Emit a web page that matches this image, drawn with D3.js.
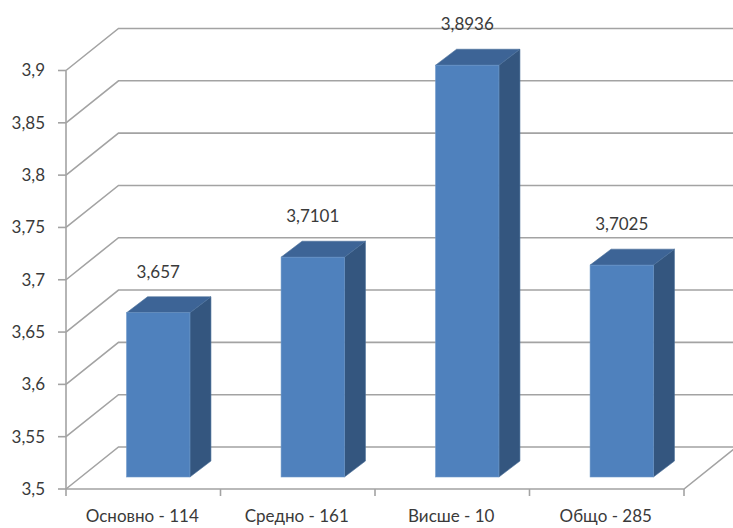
<!DOCTYPE html>
<html>
<head>
<meta charset="utf-8">
<script src="https://cdn.jsdelivr.net/npm/d3@7"></script>
<style>
  html, body { margin: 0; padding: 0; background: #fff; }
  svg { display: block; }
  text { font-family: Lato, "Open Sans", sans-serif; fill: #3A3A3A; }
</style>
</head>
<body>
<svg id="chart" width="733" height="528"></svg>
<script>
// Average score by education level (count of respondents in the label)
const categories = ["Основно - 114", "Средно - 161", "Висше - 10", "Общо - 285"];
const values = [3.657, 3.7101, 3.8936, 3.7025];
const yTicks = [3.5, 3.55, 3.6, 3.65, 3.7, 3.75, 3.8, 3.85, 3.9];

const W = 733, H = 528;
const svg = d3.select("#chart");

// Front plane of the 3D plot area
const x0 = 66, x1 = 684, yBase = 489, yTop = 70.5;
// Oblique depth of the floor / back wall
const depth = { dx: 52.5, dy: -42 };
// Bars sit partway into the depth
const barFront = 0.286, barDepth = 0.4;

const x = d3.scaleBand().domain(categories).range([x0, x1]).paddingInner(0).paddingOuter(0);
const y = d3.scaleLinear().domain([3.5, 3.9]).range([yBase, yTop]);

const fmt = v => String(v).replace(".", ",");
const grid = "#A3A3A3";
const fontSize = 17;

// Back wall gridlines: diagonal on the side wall, then horizontal across the back
const gridG = svg.append("g");
yTicks.forEach(t => {
  const yy = y(t);
  gridG.append("path")
    .attr("d", `M${x0},${yy} L${x0 + depth.dx},${yy + depth.dy} L${x1 + depth.dx},${yy + depth.dy}`)
    .attr("fill", "none").attr("stroke", grid).attr("stroke-width", 1.6);
});

// Floor: front edge and right diagonal
gridG.append("path")
  .attr("d", `M${x0},${yBase} L${x1},${yBase} L${x1 + depth.dx},${yBase + depth.dy}`)
  .attr("fill", "none").attr("stroke", grid).attr("stroke-width", 1.6);

// Value axis line and ticks
const axisG = svg.append("g");
axisG.append("line")
  .attr("x1", x0).attr("x2", x0).attr("y1", y(3.9)).attr("y2", yBase)
  .attr("stroke", grid).attr("stroke-width", 1.6);
axisG.selectAll("line.tick").data(yTicks).enter().append("line")
  .attr("class", "tick")
  .attr("x1", x0 - 8).attr("x2", x0)
  .attr("y1", d => y(d)).attr("y2", d => y(d))
  .attr("stroke", grid).attr("stroke-width", 1.6);
axisG.selectAll("text").data(yTicks).enter().append("text")
  .attr("x", 45).attr("y", d => y(d)).attr("dy", "0.35em")
  .attr("text-anchor", "end").attr("font-size", fontSize)
  .text(d => fmt(d));

// Category ticks below the floor edge
const catEdges = categories.map(c => x(c)).concat([x1]);
svg.append("g").selectAll("line").data(catEdges).enter().append("line")
  .attr("x1", d => d).attr("x2", d => d)
  .attr("y1", yBase).attr("y2", yBase + 7)
  .attr("stroke", grid).attr("stroke-width", 1.6);

// Category labels
svg.append("g").selectAll("text").data(categories).enter().append("text")
  .attr("x", d => x(d) + x.bandwidth() / 2 - 1)
  .attr("y", 522)
  .attr("text-anchor", "middle").attr("font-size", fontSize)
  .text(d => d);

// 3D bars
const bw = x.bandwidth() * 0.41;
const fdx = depth.dx * barFront, fdy = depth.dy * barFront;
const bdx = depth.dx * barDepth, bdy = depth.dy * barDepth * 0.95;

const bars = svg.append("g").selectAll("g").data(values).enter().append("g");
bars.each(function (v, i) {
  const g = d3.select(this);
  const cx = x(categories[i]) + x.bandwidth() / 2 + fdx;
  const left = cx - bw / 2, right = cx + bw / 2;
  const bottom = yBase + fdy, top = y(v) + fdy;
  // side face
  g.append("path")
    .attr("d", `M${right},${top} L${right + bdx},${top + bdy} L${right + bdx},${bottom + bdy} L${right},${bottom} Z`)
    .attr("fill", "#34567F").attr("stroke", "#4A6E99").attr("stroke-width", 0.6);
  // top face
  g.append("path")
    .attr("d", `M${left},${top} L${left + bdx},${top + bdy} L${right + bdx},${top + bdy} L${right},${top} Z`)
    .attr("fill", "#3D6496").attr("stroke", "#4A6E99").attr("stroke-width", 0.6);
  // front face
  g.append("rect")
    .attr("x", left).attr("y", top).attr("width", bw).attr("height", bottom - top)
    .attr("fill", "#4F81BD").attr("stroke", "#6A95C8").attr("stroke-width", 0.6);
  // value label
  g.append("text")
    .attr("x", cx).attr("y", top - 35)
    .attr("text-anchor", "middle").attr("font-size", fontSize)
    .text(fmt(v));
});
</script>
</body>
</html>
